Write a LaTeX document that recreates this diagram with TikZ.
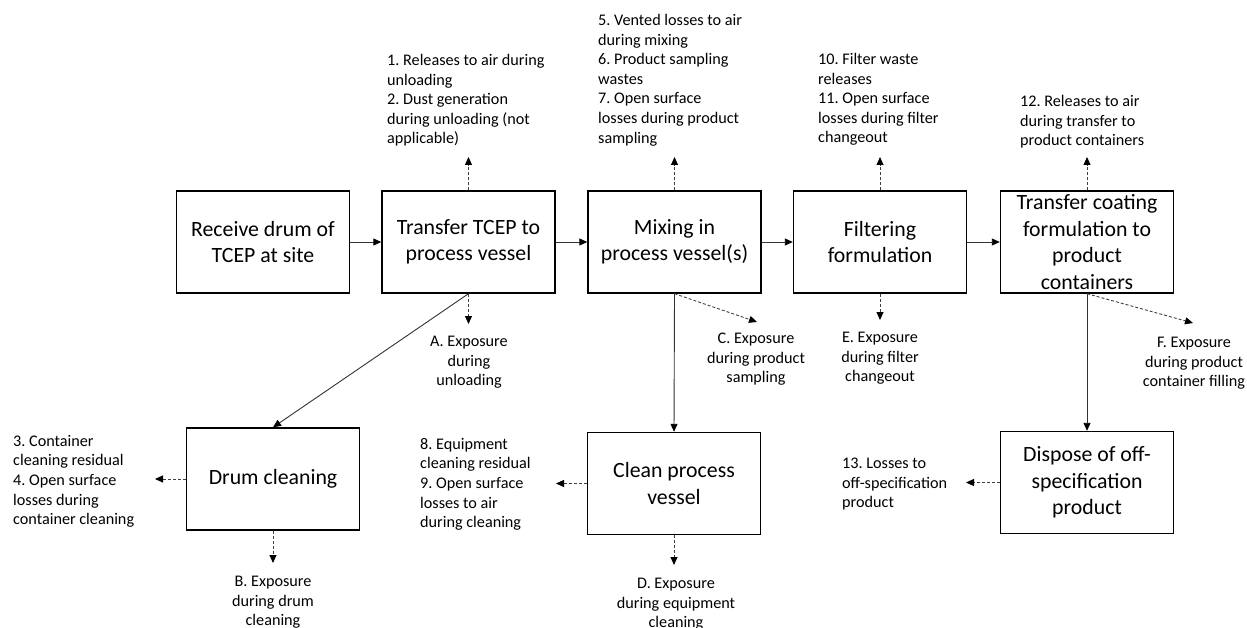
\documentclass[tikz,border=0pt]{standalone}
\usepackage{fontspec}
\setmainfont{Carlito}
\usetikzlibrary{arrows.meta}
\frenchspacing
\begin{document}
\begin{tikzpicture}[x=1pt,y=-1pt,
  box/.style={draw, line width=1.4pt, minimum width=173pt, minimum height=102pt, inner sep=0pt, align=center, font=\fontsize{21.8}{26.5}\selectfont},
  lbl/.style={inner sep=0pt, font=\fontsize{16.2}{19.6}\selectfont},
  flow/.style={draw=black!80, line width=0.9pt, -{Triangle[length=8pt,width=7pt,color=black]}},
  rel/.style={draw=black!75, line width=0.9pt, dash pattern=on 3pt off 2pt, -{Triangle[length=8pt,width=7pt,color=black]}}]
\useasboundingbox (0,0) rectangle (1247,628);

% process boxes
\node[box] (b1) at (263,242) {Receive drum of\\TCEP at site};
\node[box] (b2) at (468.5,242) {Transfer TCEP to\\process vessel};
\node[box] (b3) at (674.5,242) {Mixing in\\process vessel(s)};
\node[box] (b4) at (880,242) {Filtering\\formulation};
\node[box] (b5) at (1087,242) {Transfer coating\\formulation to\\product\\containers};
\node[box] (drum) at (273,479) {Drum cleaning};
\node[box] (clean) at (674,483.5) {Clean process\\vessel};
\node[box] (disp) at (1087,482.5) {Dispose of off-\\specification\\product};

% labels
\node[lbl, anchor=north west, align=left] (l12) at (387,54) {1. Releases to air during\\unloading\\2. Dust generation\\during unloading (not\\applicable)};
\node[lbl, anchor=north west, align=left] (l567) at (598,14) {5. Vented losses to air\\during mixing\\6. Product sampling\\wastes\\7. Open surface\\losses during product\\sampling};
\node[lbl, anchor=north west, align=left] (l1011) at (818,53) {10. Filter waste\\releases\\11. Open surface\\losses during filter\\changeout};
\node[lbl, anchor=north west, align=left] (l12b) at (1020,95) {12. Releases to air\\during transfer to\\product containers};
\node[lbl, anchor=north west, align=left] (l34) at (13,435) {3. Container\\cleaning residual\\4. Open surface\\losses during\\container cleaning};
\node[lbl, anchor=north west, align=left] (l89) at (420,438) {8. Equipment\\cleaning residual\\9. Open surface\\losses to air\\during cleaning};
\node[lbl, anchor=north west, align=left] (l13) at (842,458) {13. Losses to\\off-specification\\product};
\node[lbl, anchor=north, align=center] (lA) at (469,336) {A. Exposure\\during\\unloading};
\node[lbl, anchor=north, align=center] (lB) at (273,576) {B. Exposure\\during drum\\cleaning};
\node[lbl, anchor=north, align=center] (lC) at (756,333) {C. Exposure\\during product\\sampling};
\node[lbl, anchor=north, align=center] (lD) at (676,578) {D. Exposure\\during equipment\\cleaning};
\node[lbl, anchor=north, align=center] (lE) at (880,332) {E. Exposure\\during filter\\changeout};
\node[lbl, anchor=north, align=center] (lF) at (1194,337) {F. Exposure\\during product\\container filling};

% main flow
\draw[flow] (b1) -- (b2);
\draw[flow] (b2) -- (b3);
\draw[flow] (b3) -- (b4);
\draw[flow] (b4) -- (b5);
\draw[flow] (b2.south) -- (drum.north);
\draw[flow] (b3.south) -- (clean.north);
\draw[flow] (b5.south) -- (disp.north);

% release / exposure end points
\coordinate (t2) at (468.5,157);
\coordinate (t3) at (674.5,157);
\coordinate (t4) at (880,157);
\coordinate (t5) at (1087,157);
\coordinate (eA) at (468.5,324);
\coordinate (eC) at (757,322);
\coordinate (eE) at (880,320);
\coordinate (eF) at (1193,323);
\coordinate (eB) at (273,563);
\coordinate (eD) at (674,565);
\coordinate (w34) at (155,479);
\coordinate (w89) at (556,483.5);
\coordinate (w13) at (966,482.5);

\draw[rel] (b2.north) -- (t2);
\draw[rel] (b3.north) -- (t3);
\draw[rel] (b4.north) -- (t4);
\draw[rel] (b5.north) -- (t5);
\draw[rel] (b2.south) -- (eA);
\draw[rel] (b3.south) -- (eC);
\draw[rel] (b4.south) -- (eE);
\draw[rel] (b5.south) -- (eF);
\draw[rel] (drum.south) -- (eB);
\draw[rel] (clean.south) -- (eD);
\draw[rel] (drum.west) -- (w34);
\draw[rel] (clean.west) -- (w89);
\draw[rel] (disp.west) -- (w13);
\end{tikzpicture}
\end{document}
